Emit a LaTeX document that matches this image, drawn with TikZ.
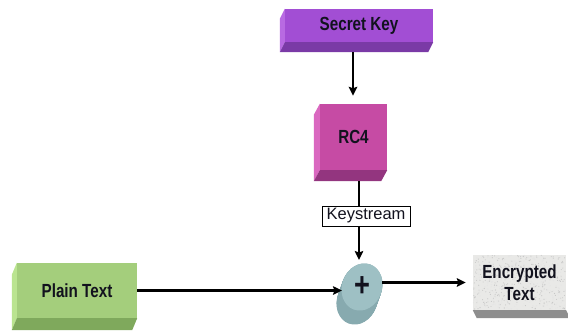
\documentclass[tikz,border=0pt]{standalone}
\usepackage{fontspec}
\setmainfont{Liberation Sans}
\newfontfamily\boxfont[FakeStretch=0.8]{Liberation Sans}
\usetikzlibrary{arrows.meta,shapes.geometric,calc}

\definecolor{labelInk}{HTML}{12121E}
\definecolor{skFront}{HTML}{A24ED4}
\definecolor{skSide}{HTML}{B86AE2}
\definecolor{skBottom}{HTML}{7A3AA6}
\definecolor{rcFront}{HTML}{C64BA4}
\definecolor{rcSide}{HTML}{DA68C0}
\definecolor{rcBottom}{HTML}{93357F}
\definecolor{ptFront}{HTML}{A4CE7C}
\definecolor{ptSide}{HTML}{BAE490}
\definecolor{ptBottom}{HTML}{7FA95C}
\definecolor{etFront}{HTML}{E9E9E7}
\definecolor{etBottom}{HTML}{8E8E8E}
\definecolor{xorFront}{HTML}{9EC0C4}
\definecolor{xorSide}{HTML}{87AAAF}

% left and bottom faces of an extruded box: node, dx, dy, side colour, bottom colour
\newcommand\boxdepth[5]{%
  \fill[#4] (#1.north west) -- ++(#2,#3) -- ($(#1.south west)+(#2,#3)$) -- (#1.south west) -- cycle;
  \fill[#5] (#1.south west) -- ++(#2,#3) -- ($(#1.south east)+(#2,#3)$) -- (#1.south east) -- cycle;
}

\begin{document}
\begin{tikzpicture}[x=1pt,y=-1pt,
  face/.style={inner sep=0pt, font=\boxfont\bfseries\fontsize{19}{22}\selectfont,
               text=labelInk, align=center},
  arr/.style={line width=2.2pt, -{Stealth[length=9pt,width=8.5pt,inset=1.5pt]}},
  tag/.style={draw=black, line width=0.8pt, fill=white, inner sep=0pt,
              minimum width=88pt, minimum height=20pt,
              font=\fontsize{16.5}{18}\selectfont, text=labelInk}
]
\useasboundingbox (0,0) rectangle (568,330);

% extruded boxes
\node[face, fill=skFront, minimum width=148pt, minimum height=33pt] (sk) at (359,25.5) {Secret Key};
\boxdepth{sk}{-5}{10}{skSide}{skBottom}

\node[face, fill=rcFront, minimum width=67pt, minimum height=66pt] (rc4) at (353.5,137) {RC4};
\boxdepth{rc4}{-6}{11}{rcSide}{rcBottom}

\node[face, fill=ptFront, minimum width=120pt, minimum height=55pt] (pt) at (77,290.5) {Plain Text};
\boxdepth{pt}{-5}{12}{ptSide}{ptBottom}

% granite block for the output
\node[inner sep=0pt, fill=etFront, minimum width=93pt, minimum height=55pt] (et) at (519.5,282.5) {};
\fill[etBottom] (et.south west) -- ++(4,8) -- ($(et.south east)+(4,8)$) -- (et.south east) -- cycle;
\pgfmathsetseed{11}
\foreach \i in {1,...,700}{
  \pgfmathsetmacro\rx{rnd*92}
  \pgfmathsetmacro\ry{rnd*54}
  \pgfmathsetmacro\gr{rnd>0.5 ? 22 : 10}
  \fill[black!\gr] ($(et.north west)+(\rx+0.5,\ry+0.5)$) circle (0.55pt);
}
\node[face] (ettext) at (et) {Encrypted\\Text};

% XOR disc with its depth
\coordinate (xc) at (362,287);
\foreach \t in {0,...,28}
  \fill[xorSide] ($(xc)+(-5*\t/28,14*\t/28)$) circle [x radius=20, y radius=24, rotate=-20];
\node[ellipse, inner sep=0pt, fill=xorFront, minimum width=40pt, minimum height=48pt, rotate=-20] (xor) at (xc) {};
\node[inner sep=0pt, font=\boxfont\bfseries\fontsize{34}{34}\selectfont, text=labelInk] (plus) at (xor.center) {+};

% connectors
\draw[arr, shorten >=8pt] ([shift={(-6,10)}]sk.south) coordinate (skfoot) -- (skfoot |- rc4.north);
\draw[arr, shorten >=27pt] ([shift={(5.5,11)}]rc4.south) coordinate (rcfoot) -- (rcfoot |- xor.center);
\node[tag] (ks) at (366,216) {Keystream};
\draw[arr, shorten >=20pt] (pt.east) -- (pt.east -| xor.center);
\draw[arr, shorten <=20pt, shorten >=7pt] (xor.center |- et.west) -- (et.west);
\end{tikzpicture}
\end{document}
